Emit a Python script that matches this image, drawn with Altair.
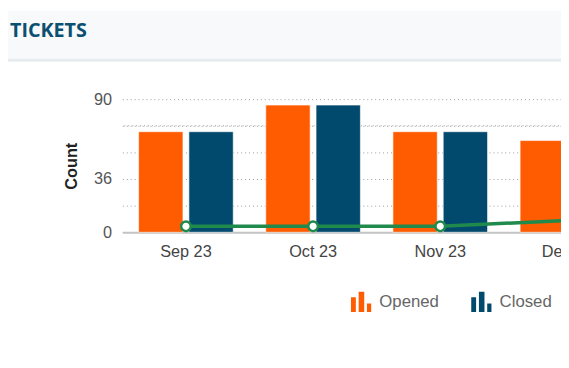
import altair as alt
import pandas as pd

months = ["Sep 23", "Oct 23", "Nov 23", "Dec 23"]
opened = [68, 86, 68, 62]
closed = [68, 86, 68, None]
trend = [4, 4, 4, 8]
series = ["Opened", "Closed"]
series_colors = ["#FF5B00", "#024A6D"]
y_ticks = [0, 18, 36, 54, 72, 90]
y_labels_shown = [0, 36, 90]
extra_grid = [72]
title_text = ["TICKETS"]

bars_df = pd.DataFrame({
    "month": months * 2,
    "series": ["Opened"] * 4 + ["Closed"] * 4,
    "count": opened + closed,
})
line_df = pd.DataFrame({"month": months, "count": trend})
grid_df = pd.DataFrame({"count": extra_grid})
title_df = pd.DataFrame({"t": title_text})

FONT = "Liberation Sans"
GREEN = "#1F8A4C"
y_scale = alt.Scale(domain=[0, 90], nice=False)

x_enc = alt.X(
    "month:N", sort=months, title=None,
    scale=alt.Scale(domain=months, range=[1, 517], paddingInner=0.256, paddingOuter=0.128),
    axis=alt.Axis(labelAngle=0, labelFontSize=16.5, labelColor="#444", labelFont=FONT,
                  labelPadding=12, ticks=False, domainColor="#c4c4c4", domainWidth=2,
                  grid=False, labelOverlap=False, labelBound=False, labelFlush=False),
)
label_expr = "indexof(" + str(y_labels_shown) + ", datum.value) >= 0 ? datum.label : ''"
y_axis = alt.Axis(values=y_ticks, labelExpr=label_expr, grid=True, gridDash=[1, 3],
                  gridColor="#999999", gridWidth=1, domain=False, ticks=False,
                  labelOverlap=False,
                  labelFontSize=16.5, labelColor="#555", labelFont=FONT, labelPadding=10,
                  titleFontSize=16.5, titleFontWeight="bold", titleColor="#222",
                  titleFont=FONT, titlePadding=14)
y_enc = alt.Y("count:Q", title="Count", scale=y_scale, axis=y_axis)

symbol_path = "M-1,-0.45H-0.52V1H-1Z M-0.24,-1H0.31V1H-0.24Z M0.58,0.17H1V1H0.58Z"

header = alt.Chart(title_df).mark_rect(color="#F7F9FB").encode(
    x=alt.value(-115), x2=alt.value(460), y=alt.value(-90), y2=alt.value(-41))
border = alt.Chart(title_df).mark_rect(color="#E8EBEE").encode(
    x=alt.value(-115), x2=alt.value(460), y=alt.value(-41), y2=alt.value(-38))
title = alt.Chart(title_df).mark_text(
    align="left", baseline="alphabetic", font="Open Sans", fontSize=20,
    fontWeight="bold", color="#0B4F71").encode(
    x=alt.value(-113), y=alt.value(-63), text="t:N")

grid_rule = alt.Chart(grid_df).mark_rule(color="#999999", strokeDash=[1, 3],
                                          strokeDashOffset=2).encode(y=y_enc)

bars = alt.Chart(bars_df).mark_bar(stroke="#ffffff", strokeWidth=1, strokeOpacity=0.6).encode(
    x=x_enc,
    xOffset=alt.XOffset("series:N", sort=series,
                        scale=alt.Scale(domain=series, paddingInner=0.118)),
    y=y_enc,
    color=alt.Color("series:N", sort=series,
                    scale=alt.Scale(domain=series, range=series_colors),
                    legend=alt.Legend(title=None, orient="none", legendX=232.7, legendY=195,
                                      direction="horizontal", symbolType=symbol_path,
                                      symbolSize=420, symbolStrokeWidth=0, symbolOpacity=1,
                                      labelFontSize=17, labelColor="#666", labelFont=FONT,
                                      labelOffset=8, columnPadding=32, padding=0)),
)

line = alt.Chart(line_df).mark_line(
    color=GREEN, strokeWidth=3.5,
    point=alt.OverlayMarkDef(filled=True, fill="white", stroke=GREEN, strokeWidth=2.5, size=95),
).encode(
    x=alt.X("month:N", sort=months),
    y=y_enc,
)

chart = alt.layer(header, border, title, grid_rule, bars, line).properties(
    width=446, height=135,
    padding={"left": 115, "top": 90, "right": 0, "bottom": 120},
    autosize=alt.AutoSizeParams(type="none"),
    background="white",
).configure_view(stroke=None)

chart.save("out.html", embed_options={"renderer": "svg", "actions": False})
